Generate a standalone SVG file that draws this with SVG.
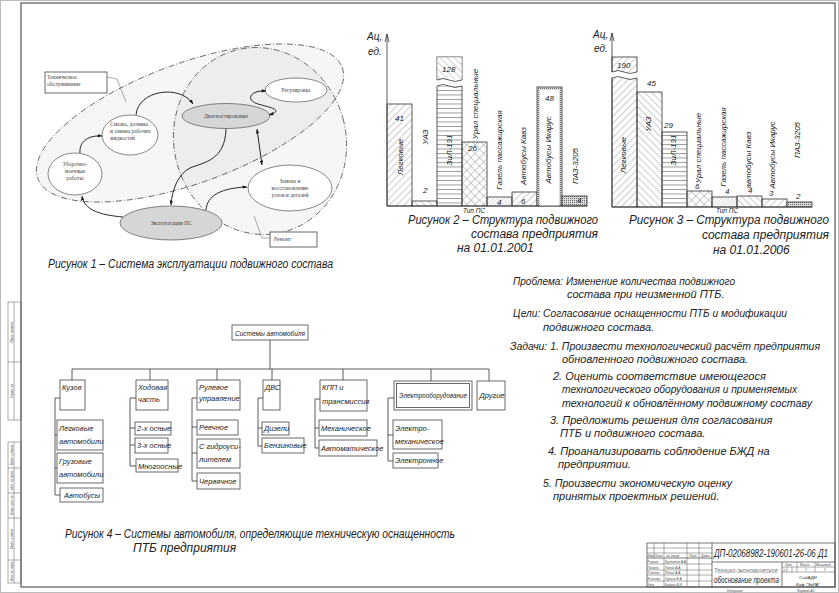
<svg xmlns="http://www.w3.org/2000/svg" width="839" height="593" viewBox="0 0 839 593">
<style>
.t{font-family:"Liberation Sans","Arial",sans-serif;font-style:italic;fill:#222}
.s{font-family:"Liberation Serif","Times New Roman",serif;fill:#444;font-size:5.5px}
.ln{stroke:#333;stroke-width:0.8;fill:none}
.bx{fill:#fff;stroke:#444;stroke-width:0.8}
.bar{stroke:#333;stroke-width:0.8}
.cn{stroke:#111;stroke-width:0.9;fill:none}
.dash{stroke:#555;stroke-width:0.8;stroke-dasharray:6 2 1 2;fill:#000;fill-opacity:0.035}
.g{stroke:#555;stroke-width:0.5;fill:none}
.tiny{font-family:"Liberation Sans",Arial,sans-serif;font-style:italic;fill:#444;font-size:3.2px}
</style>
<defs>
<pattern id="hU" width="5" height="5" patternUnits="userSpaceOnUse" patternTransform="rotate(45)"><line x1="0" y1="0" x2="0" y2="5" stroke="#555" stroke-width="0.6"/></pattern>
<pattern id="hD" width="5" height="5" patternUnits="userSpaceOnUse" patternTransform="rotate(-45)"><line x1="0" y1="0" x2="0" y2="5" stroke="#555" stroke-width="0.6"/></pattern>
<pattern id="hH" width="5" height="4.5" patternUnits="userSpaceOnUse"><line x1="0" y1="0.5" x2="5" y2="0.5" stroke="#555" stroke-width="0.6"/></pattern>
<pattern id="hX" width="6" height="6" patternUnits="userSpaceOnUse" patternTransform="rotate(45)"><line x1="0" y1="0" x2="0" y2="6" stroke="#555" stroke-width="0.6"/><line x1="0" y1="0" x2="6" y2="0" stroke="#555" stroke-width="0.6"/></pattern>
<pattern id="hF" width="2.6" height="2.6" patternUnits="userSpaceOnUse" patternTransform="rotate(45)"><line x1="0" y1="0" x2="0" y2="2.6" stroke="#777" stroke-width="0.5"/></pattern>
<pattern id="hDot" width="2" height="2" patternUnits="userSpaceOnUse"><rect width="2" height="2" fill="#ddd"/><rect x="0" y="0" width="1" height="1" fill="#666"/></pattern>
<marker id="a" viewBox="0 0 8 6" refX="8" refY="3" markerWidth="5" markerHeight="4" orient="auto-start-reverse"><path d="M0,0 L8,3 L0,6z" fill="#111"/></marker>
</defs>
<rect x="0" y="0" width="839" height="593" fill="#fff"/>
<rect x="0.5" y="0.5" width="838" height="592" fill="none" stroke="#bbb" stroke-width="1"/>

<!-- frame -->
<g id="frame">
<rect x="21" y="3" width="814" height="584" fill="none" stroke="#555" stroke-width="1.2"/>
<g id="stamp-left" class="g">
<rect x="8" y="302" width="13" height="118"/><line x1="8" y1="362" x2="21" y2="362"/><line x1="14" y1="302" x2="14" y2="420"/>
<rect x="8" y="442" width="13" height="141"/><line x1="14" y1="442" x2="14" y2="583"/>
<line x1="8" y1="468" x2="21" y2="468"/><line x1="8" y1="493" x2="21" y2="493"/><line x1="8" y1="518" x2="21" y2="518"/><line x1="8" y1="560" x2="21" y2="560"/>
</g>
<g class="tiny" text-anchor="middle">
<text transform="translate(12.5,332) rotate(-90)">Перв. примен.</text>
<text transform="translate(12.5,391) rotate(-90)">Справ. №</text>
<text transform="translate(12.5,455) rotate(-90)">Подп. и дата</text>
<text transform="translate(12.5,480) rotate(-90)">Инв. № дубл.</text>
<text transform="translate(12.5,505) rotate(-90)">Взам. инв. №</text>
<text transform="translate(12.5,539) rotate(-90)">Подп. и дата</text>
<text transform="translate(12.5,571) rotate(-90)">Инв. № подл.</text>
</g>
</g>

<!-- Figure 1 -->
<g id="fig1">
<ellipse class="dash" cx="190" cy="123" rx="162" ry="60" transform="rotate(-20 190 123)"/>
<ellipse class="dash" cx="260" cy="141" rx="86" ry="94" transform="rotate(-15 260 141)"/>
<g id="to-label"><rect x="45" y="72" width="62" height="21" class="bx" stroke="#666"/>
<text class="s" x="47" y="79">Техническое</text><text class="s" x="47" y="86">обслуживание</text>
<path d="M107,77 L117,79 L126,102" class="g"/></g>
<g id="rem-label"><rect x="270" y="232" width="47" height="15" class="bx" stroke="#666"/>
<text class="s" x="274" y="241">Ремонт</text>
<path d="M270,238 L262,238 L254,216" class="g"/></g>
<g id="n-diag"><ellipse cx="226" cy="116" rx="44" ry="12.5" fill="#d6d6d6" stroke="#555" stroke-width="0.7"/><text class="s" x="226" y="118" text-anchor="middle">Диагностирование</text></g>
<g id="n-reg"><ellipse cx="296" cy="90" rx="31" ry="12" fill="#fff" stroke="#555" stroke-width="0.7"/><text class="s" x="296" y="92" text-anchor="middle">Регулировка</text></g>
<g id="n-zam"><ellipse cx="290" cy="188" rx="42" ry="23" fill="#fff" stroke="#555" stroke-width="0.7"/><text class="s" text-anchor="middle"><tspan x="290" y="183">Замена и</tspan><tspan x="290" y="190">восстановление</tspan><tspan x="290" y="197">узлов и деталей</tspan></text></g>
<g id="n-eks"><ellipse cx="171" cy="223" rx="51" ry="17" fill="#d6d6d6" stroke="#555" stroke-width="0.7"/><text class="s" x="171" y="225" text-anchor="middle">Эксплуатация ПС</text></g>
<g id="n-sm"><ellipse cx="130" cy="135" rx="28" ry="20" fill="#fff" stroke="#555" stroke-width="0.7"/><text class="s"><tspan x="110" y="126">Смазка, доливка</tspan><tspan x="110" y="133">и замена рабочих</tspan><tspan x="110" y="140">жидкостей</tspan></text></g>
<g id="n-ub"><ellipse cx="75" cy="174" rx="27" ry="21" fill="#fff" stroke="#555" stroke-width="0.7"/><text class="s" text-anchor="middle"><tspan x="75" y="166">Уборочно-</tspan><tspan x="75" y="173">моечные</tspan><tspan x="75" y="180">работы</tspan></text></g>
<g id="fig1-connectors">
<path class="cn" d="M136,115 C138,90 180,84 193,104" marker-end="url(#a)"/>
<path class="cn" d="M80,153 C79,141 89,135 102,136" marker-end="url(#a)"/>
<path class="cn" d="M123,217 C100,215 84,210 82,196" marker-end="url(#a)"/>
<path class="cn" d="M226,129 C225,160 205,162 190,168 C178,174 172,190 171,205" marker-end="url(#a)"/>
<path class="cn" d="M206,210 C207,195 222,188 247,187" marker-end="url(#a)"/>
<path class="cn" d="M257,129 L262,165" marker-start="url(#a)" marker-end="url(#a)"/>
<path class="cn" d="M266,91 C250,90 245,100 258,104 C272,108 284,110 269,115" marker-start="url(#a)" marker-end="url(#a)"/>
</g>
<text class="t" x="48" y="268" font-size="12" textLength="285" lengthAdjust="spacingAndGlyphs">Рисунок 1 – Система эксплуатации подвижного состава</text>
</g>

<!-- Figure 2 -->
<g id="fig2">
<line class="ln" x1="387" y1="206" x2="387" y2="34"/><path class="ln" d="M385,42 L387,34 L389,42"/>
<text class="t" x="367" y="40" font-size="10">Ац,</text><text class="t" x="368" y="55" font-size="10">ед.</text>
<rect class="bar" x="387" y="104" width="25" height="102" fill="url(#hU)"/>
<rect class="bar" x="412" y="201" width="25" height="5" fill="url(#hD)"/>
<rect class="bar" x="437" y="57" width="25" height="149" fill="url(#hH)"/>
<rect x="437.4" y="57.4" width="24.2" height="22" fill="#fff"/><rect x="437.4" y="57.4" width="24.2" height="22" fill="url(#hD)"/>
<rect x="436" y="80" width="27" height="6" fill="#fff"/>
<path class="ln" d="M437,80 q6,-3 12,0 t13,0 M437,86 q6,-3 12,0 t13,0"/>
<rect class="bar" x="462" y="142" width="25" height="64" fill="url(#hX)"/>
<rect class="bar" x="487" y="197" width="25" height="9" fill="url(#hF)"/>
<rect class="bar" x="512" y="192" width="25" height="14" fill="url(#hU)"/>
<rect class="bar" x="537" y="87" width="25" height="119" fill="url(#hDot)"/>
<rect x="540" y="90" width="19" height="116" fill="#fff"/>
<rect class="bar" x="562" y="196" width="25" height="10" fill="url(#hDot)"/>
<line class="ln" x1="387" y1="206" x2="587" y2="206"/>
<g class="t" font-size="8">
<text x="395" y="121">41</text><text x="423" y="193">2</text><text x="442" y="72">128</text><text x="468" y="151">26</text>
<text x="497" y="205">4</text><text x="521" y="204">6</text><text x="545" y="101">48</text><text x="577" y="203">4</text>
</g>
<g class="t" font-size="8" text-anchor="middle">
<text transform="translate(403,157) rotate(-90)">Легковые</text>
<text transform="translate(428,137) rotate(-90)">УАЗ</text>
<text transform="translate(452,150) rotate(-90)">ЗиЛ-131</text>
<text transform="translate(478,104) rotate(-90)">Урал специальные</text>
<text transform="translate(502,150) rotate(-90)">Газель пассажирская</text>
<text transform="translate(526,156) rotate(-90)">Автобусы Кавз</text>
<text transform="translate(551,150) rotate(-90)">Автобусы Икарус</text>
<text transform="translate(578,166) rotate(-90)">ПАЗ-3205</text>
</g>
<text class="t" x="463" y="213" font-size="6.5">Тип ПС</text>
<text class="t" x="408" y="224" font-size="12" textLength="190" lengthAdjust="spacingAndGlyphs">Рисунок 2 – Структура подвижного</text>
<text class="t" x="598" y="238" font-size="12" text-anchor="end">состава предприятия</text>
<text class="t" x="457" y="252" font-size="12">на 01.01.2001</text>
</g>

<!-- Figure 3 -->
<g id="fig3">
<line class="ln" x1="612" y1="207" x2="612" y2="33"/><path class="ln" d="M610,41 L612,33 L614,41"/>
<text class="t" x="593" y="38" font-size="10">Ац,</text><text class="t" x="594" y="52" font-size="10">ед.</text>
<rect class="bar" x="612" y="57" width="25" height="150" fill="url(#hU)"/>
<rect x="611" y="72" width="27" height="6" fill="#fff"/>
<path class="ln" d="M612,72 q6,-3 12,0 t13,0 M612,78 q6,-3 12,0 t13,0"/>
<rect class="bar" x="637" y="92" width="25" height="115" fill="url(#hD)"/>
<rect class="bar" x="662" y="132" width="25" height="75" fill="url(#hH)"/>
<rect class="bar" x="687" y="191" width="25" height="16" fill="url(#hX)"/>
<rect class="bar" x="712" y="197" width="25" height="10" fill="url(#hF)"/>
<rect class="bar" x="737" y="196" width="25" height="11" fill="url(#hD)"/>
<rect class="bar" x="762" y="199" width="25" height="8" fill="url(#hU)"/>
<rect class="bar" x="787" y="202" width="25" height="5" fill="url(#hDot)"/>
<line class="ln" x1="612" y1="207" x2="812" y2="207"/>
<g class="t" font-size="8">
<text x="617" y="68">190</text><text x="647" y="86">45</text><text x="664" y="128">29</text><text x="695" y="189">6</text>
<text x="725" y="194">4</text><text x="748" y="193">4</text><text x="769" y="196">3</text><text x="796" y="199">2</text>
</g>
<g class="t" font-size="8" text-anchor="middle">
<text transform="translate(626,155) rotate(-90)">Легковые</text>
<text transform="translate(651,124) rotate(-90)">УАЗ</text>
<text transform="translate(676,150) rotate(-90)">ЗиЛ-131</text>
<text transform="translate(701,148) rotate(-90)">Урал специальные</text>
<text transform="translate(726,147) rotate(-90)">Газель пассажирская</text>
<text transform="translate(751,160) rotate(-90)">автобусы Кавз</text>
<text transform="translate(775,155) rotate(-90)">Автобусы Икарус</text>
<text transform="translate(800,140) rotate(-90)">ПАЗ-3205</text>
</g>
<text class="t" x="716" y="213" font-size="6.5">Тип ПС</text>
<text class="t" x="629" y="224" font-size="12" textLength="200" lengthAdjust="spacingAndGlyphs">Рисунок 3 – Структура подвижного</text>
<text class="t" x="829" y="239" font-size="12" text-anchor="end">состава предприятия</text>
<text class="t" x="713" y="254" font-size="12">на 01.01.2006</text>
</g>

<!-- Text block -->
<g id="tasks" class="t" font-size="11">
<text x="513" y="285" textLength="222" lengthAdjust="spacingAndGlyphs">Проблема: Изменение количества подвижного</text>
<text x="567" y="298">состава при неизменной ПТБ.</text>
<text x="513" y="317" textLength="274" lengthAdjust="spacingAndGlyphs">Цели: Согласование оснащенности ПТБ и модификации</text>
<text x="543" y="331">подвижного состава.</text>
<text x="510" y="350" textLength="310" lengthAdjust="spacingAndGlyphs">Задачи: 1. Произвести технологический расчёт предприятия</text>
<text x="562" y="363">обновленного подвижного состава.</text>
<text x="553" y="380">2. Оценить соответствие имеющегося</text>
<text x="562" y="393" textLength="235" lengthAdjust="spacingAndGlyphs">технологического оборудования и применяемых</text>
<text x="562" y="407" textLength="250" lengthAdjust="spacingAndGlyphs">технологий к обновлённому подвижному составу</text>
<text x="550" y="424">3. Предложить решения для согласования</text>
<text x="560" y="437">ПТБ и подвижного состава.</text>
<text x="548" y="455">4. Проанализировать соблюдение БЖД на</text>
<text x="558" y="468">предприятии.</text>
<text x="543" y="487" textLength="189" lengthAdjust="spacingAndGlyphs">5. Произвести экономическую оценку</text>
<text x="553" y="500">принятых проектных решений.</text>
</g>

<!-- Figure 4 -->
<g id="fig4">
<g id="tree-connectors" class="ln">
<line x1="270" y1="340" x2="270" y2="369"/><line x1="72" y1="369" x2="489" y2="369"/>
<line x1="72" y1="369" x2="72" y2="380"/><line x1="150" y1="369" x2="150" y2="380"/><line x1="217" y1="369" x2="217" y2="380"/><line x1="272" y1="369" x2="272" y2="380"/><line x1="343" y1="369" x2="343" y2="380"/><line x1="431" y1="369" x2="431" y2="381"/><line x1="489" y1="369" x2="489" y2="381"/>
<path d="M60,398 H55 V495 H60 M55,435 H57 M55,468 H57"/>
<path d="M136,398 H130 V466 H136 M130,428 H135 M130,445 H135"/>
<path d="M197,398 H192 V481 H197 M192,427 H197 M192,453 H197"/>
<path d="M263,398 H258 V446 H262 M258,428 H262"/>
<path d="M320,399 H315 V448 H319 M315,428 H319"/>
<path d="M394,398 H388 V461 H393 M388,435 H393"/>
</g>
<g id="n-root"><rect class="bx" x="232" y="325" width="76" height="15"/><text class="t" x="235" y="336" font-size="8" textLength="70" lengthAdjust="spacingAndGlyphs">Системы автомобиля</text></g>
<g class="t" font-size="7.5">
<g id="n-kuz"><rect class="bx" x="60" y="380" width="25" height="30"/><text x="62" y="390">Кузов</text></g>
<g id="n-hod"><rect class="bx" x="136" y="380" width="32" height="30"/><text x="138" y="390">Ходовая</text><text x="138" y="402">часть</text></g>
<g id="n-rul"><rect class="bx" x="197" y="380" width="43" height="30"/><text x="199" y="390">Рулевое</text><text x="199" y="401">управление</text></g>
<g id="n-dvs"><rect class="bx" x="263" y="380" width="17" height="30"/><text x="265" y="390">ДВС</text></g>
<g id="n-kpp"><rect class="bx" x="320" y="380" width="47" height="31"/><text x="322" y="390">КПП и</text><text x="322" y="404">трансмиссия</text></g>
<g id="n-el"><rect class="bx" x="394" y="381" width="78" height="29"/><rect class="bx" x="396.5" y="383.5" width="73" height="24"/><text x="399" y="398" textLength="68" lengthAdjust="spacingAndGlyphs">Электрооборудование</text></g>
<g id="n-dr"><rect class="bx" x="477" y="381" width="28" height="29"/><text x="479.5" y="398">Другие</text></g>
<g id="n-leg"><rect class="bx" x="57" y="420" width="46" height="30"/><text x="59" y="431">Легковые</text><text x="59" y="444">автомобили</text></g>
<g id="n-gru"><rect class="bx" x="57" y="453" width="46" height="30"/><text x="59" y="464">Грузовые</text><text x="59" y="477">автомобили</text></g>
<g id="n-avt"><rect class="bx" x="60" y="488" width="43" height="14"/><text x="64" y="498">Автобусы</text></g>
<g id="n-2x"><rect class="bx" x="135" y="422" width="36" height="13"/><text x="137" y="431">2-х осные</text></g>
<g id="n-3x"><rect class="bx" x="135" y="438" width="33" height="15"/><text x="137" y="448">3-х осные</text></g>
<g id="n-mn"><rect class="bx" x="136" y="459" width="42" height="13"/><text x="138" y="469">Многоосные</text></g>
<g id="n-ree"><rect class="bx" x="197" y="420" width="41" height="15"/><text x="199" y="430">Реечное</text></g>
<g id="n-gid"><rect class="bx" x="197" y="439" width="43" height="29"/><text x="199" y="449">С гидроуси-</text><text x="199" y="462">лителем</text></g>
<g id="n-cher"><rect class="bx" x="197" y="473" width="43" height="16"/><text x="199" y="484">Червячное</text></g>
<g id="n-diz"><rect class="bx" x="262" y="422" width="27" height="13"/><text x="264" y="431">Дизели</text></g>
<g id="n-ben"><rect class="bx" x="262" y="438" width="42" height="15"/><text x="264" y="448">Бензиновые</text></g>
<g id="n-meh"><rect class="bx" x="319" y="420" width="48" height="16"/><text x="321" y="431">Механическое</text></g>
<g id="n-aut"><rect class="bx" x="319" y="440" width="58" height="16"/><text x="321" y="451">Автоматическое</text></g>
<g id="n-em"><rect class="bx" x="393" y="420" width="49" height="29"/><text x="395" y="431">Электро-</text><text x="395" y="444">механическое</text></g>
<g id="n-eln"><rect class="bx" x="393" y="453" width="45" height="15"/><text x="395" y="463">Электронное</text></g>
</g>
<text class="t" x="65" y="538" font-size="12" textLength="390" lengthAdjust="spacingAndGlyphs">Рисунок 4 – Системы автомобиля, определяющие техническую оснащенность</text>
<text class="t" x="133" y="552" font-size="12">ПТБ предприятия</text>
</g>

<!-- Title block -->
<g id="title-block">
<g class="g">
<rect x="647" y="543" width="188" height="44" stroke-width="0.8" stroke="#555"/>
<line x1="712" y1="543" x2="712" y2="587" stroke-width="0.8"/>
<line x1="712" y1="562" x2="835" y2="562" stroke-width="0.8"/>
<line x1="782" y1="562" x2="782" y2="587" stroke-width="0.8"/>
<line x1="654" y1="543" x2="654" y2="558"/><line x1="664" y1="543" x2="664" y2="587"/><line x1="687" y1="543" x2="687" y2="587"/><line x1="699" y1="543" x2="699" y2="587"/>
<line x1="647" y1="548" x2="712" y2="548"/><line x1="647" y1="553" x2="712" y2="553"/><line x1="647" y1="558" x2="712" y2="558" stroke-width="0.8"/>
<line x1="647" y1="564" x2="712" y2="564"/><line x1="647" y1="570" x2="712" y2="570"/><line x1="647" y1="575" x2="712" y2="575"/><line x1="647" y1="581" x2="712" y2="581"/>
<line x1="782" y1="567" x2="835" y2="567"/><line x1="782" y1="572" x2="835" y2="572"/>
<line x1="797" y1="562" x2="797" y2="572"/><line x1="815" y1="562" x2="815" y2="572"/><line x1="787" y1="567" x2="787" y2="572"/><line x1="792" y1="567" x2="792" y2="572"/>
</g>
<g class="tiny">
<text x="647.5" y="557">Изм.</text><text x="654.5" y="557">Лист</text><text x="666" y="557">№ докум.</text><text x="689" y="557">Подп.</text><text x="701" y="557">Дата</text>
<text x="647.5" y="563">Разраб.</text><text x="647.5" y="568.5">Провер.</text><text x="647.5" y="574">Т.контр.</text><text x="647.5" y="580">Н.контр.</text><text x="647.5" y="585.5">Утв.</text>
<text x="665" y="563">Курбатов А.А.</text><text x="665" y="568.5">Попов А.А.</text><text x="665" y="574">Попов А.А.</text><text x="665" y="580">Лукина Е.А.</text><text x="665" y="585.5">Бабкин В.И.</text>
<text x="785" y="566">Лит.</text><text x="800" y="566">Масса</text><text x="816" y="566">Масштаб</text>
<text x="783.5" y="570.5">у</text><text x="805" y="570.5">1</text><text x="824" y="570.5">1</text>
</g>
<text class="t" x="714" y="556.5" font-size="10.5" textLength="114" lengthAdjust="spacingAndGlyphs">ДП-02068982-190601-26-06 Д1</text>
<text class="t" x="714" y="573" font-size="7.5" style="fill:#777" textLength="64" lengthAdjust="spacingAndGlyphs">Технико-экономическое</text>
<text class="t" x="714" y="583" font-size="9.5" textLength="65" lengthAdjust="spacingAndGlyphs">обоснование проекта</text>
<text class="t" x="808" y="578.5" font-size="4.4" text-anchor="middle">СибАДИ</text>
<text class="t" x="808" y="585.5" font-size="4.4" text-anchor="middle">Каф "ЭиРА"</text>
<text class="tiny" x="727" y="591.5" font-size="4">Копировал</text>
<text class="tiny" x="797" y="591.5" font-size="4">Формат А1</text>
</g>
</svg>
